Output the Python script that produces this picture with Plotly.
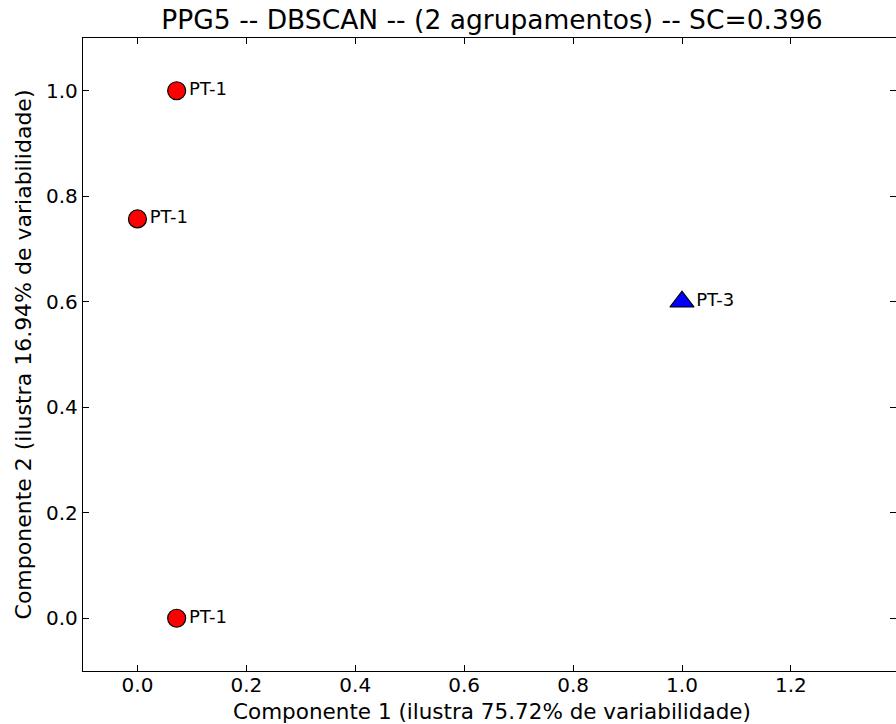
import plotly.graph_objects as go

# Data
point_labels = ["PT-1", "PT-1", "PT-1", "PT-3"]
comp1 = [0.072, 0.0, 0.072, 1.0]
comp2 = [1.0, 0.757, 0.0, 0.600]
cluster = [0, 0, 0, 1]

title_text = "PPG5 -- DBSCAN -- (2 agrupamentos) -- SC=0.396"
xlabel = "Componente 1 (ilustra 75.72% de variabilidade)"
ylabel = "Componente 2 (ilustra 16.94% de variabilidade)"
x_ticks = [0.0, 0.2, 0.4, 0.6, 0.8, 1.0, 1.2]
y_ticks = [0.0, 0.2, 0.4, 0.6, 0.8, 1.0]

styles = {0: dict(symbol="circle", color="#ff0000", size=18),
          1: dict(symbol="triangle-up", color="#0000ff", size=21)}

FONT = "DejaVu Sans"
fig = go.Figure()
for c in sorted(set(cluster)):
    idx = [i for i, k in enumerate(cluster) if k == c]
    st = styles[c]
    fig.add_trace(go.Scatter(
        x=[comp1[i] for i in idx], y=[comp2[i] for i in idx],
        text=[point_labels[i] for i in idx],
        mode="markers+text", textposition="middle right",
        textfont=dict(family=FONT, size=18, color="black"),
        marker=dict(symbol=st["symbol"], color=st["color"], size=st["size"],
                    line=dict(color="black", width=1.2)),
        showlegend=False, cliponaxis=False))

# invisible trace for right-side ticks
fig.add_trace(go.Scatter(x=[None], y=[None], yaxis="y2", showlegend=False))

fig.update_layout(
    width=896, height=724,
    margin=dict(l=83, r=0, t=38, b=53),
    paper_bgcolor="white", plot_bgcolor="white",
    font=dict(family=FONT, size=20, color="black"),
    title=dict(text=title_text, x=0.503, xref="paper", xanchor="center",
               y=0.985, yanchor="top",
               font=dict(family=FONT, size=26.5, color="black")),
    xaxis=dict(range=[-0.1, 1.393], tickvals=x_ticks,
               ticktext=[f"{v:.1f}" for v in x_ticks],
               ticks="inside", ticklen=6, tickcolor="black", tickwidth=1,
               ticklabelstandoff=-4,
               showline=True, linecolor="black", linewidth=1.3, mirror="ticks",
               showgrid=False, zeroline=False),
    yaxis=dict(range=[-0.1, 1.1], tickvals=y_ticks,
               ticktext=[f"{v:.1f}" for v in y_ticks],
               ticks="inside", ticklen=6, tickcolor="black", tickwidth=1,
               showline=True, linecolor="black", linewidth=1.3, mirror=False,
               showgrid=False, zeroline=False,
               title=dict(text=ylabel, standoff=8, font=dict(size=22))),
    yaxis2=dict(range=[-0.1, 1.1], tickvals=y_ticks, overlaying="y", side="right",
                ticks="inside", ticklen=6, tickcolor="black", tickwidth=1,
                showticklabels=False, showline=False, showgrid=False, zeroline=False),
    annotations=[dict(text=xlabel, xref="paper", yref="paper", x=0.503, y=0,
                      xanchor="center", yanchor="middle", yshift=-40, borderpad=0,
                      showarrow=False, font=dict(family=FONT, size=21.5, color="black"))],
)

fig.write_html("out.html", config={"displayModeBar": False},
               post_script="document.body.style.margin='0';document.body.style.overflow='hidden';")
